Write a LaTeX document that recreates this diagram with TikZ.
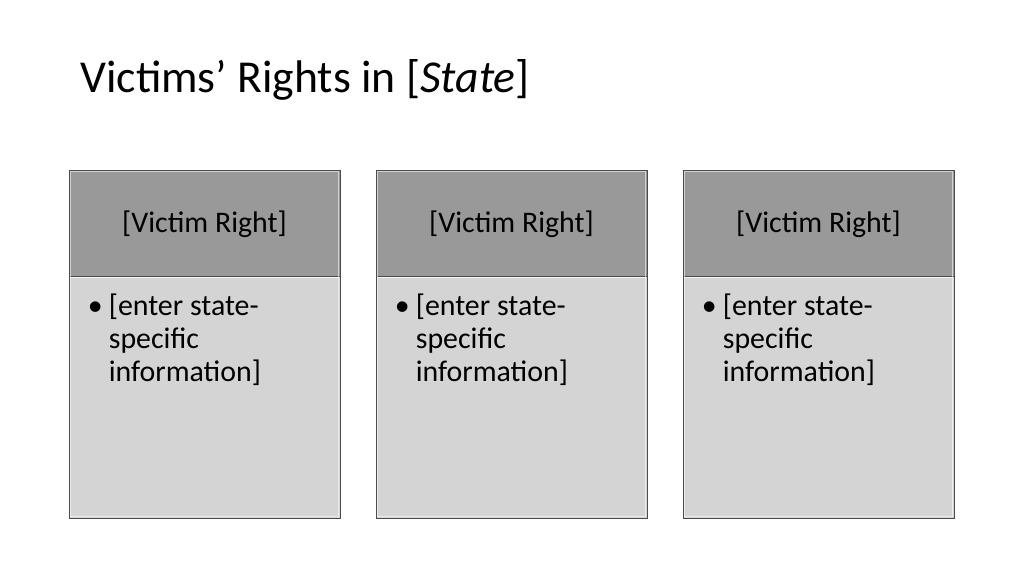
\documentclass[tikz,border=0pt]{standalone}
\usepackage{fontspec}
\setmainfont{Carlito}

\begin{document}
\begin{tikzpicture}
[x=0.02cm,y=-0.02cm,
  headbox/.style={shape=rectangle,draw=black!70,fill=black!40,inner sep=0pt,%
    minimum width=5.42cm,minimum height=2.16cm,font=\fontsize{17}{19}\selectfont},%
  bodybox/.style={shape=rectangle,draw=black!70,fill=black!17,inner sep=0pt,%
    minimum width=5.42cm,minimum height=4.84cm},%
  shine/.style={draw=white,opacity=0.55,line width=0.6pt},%
  bodytext/.style={inner sep=0pt,font=\fontsize{17}{19}\selectfont}]
\useasboundingbox[fill=white] (0,0) rectangle (1024,576);
%% title
\node (title) at (80,92) [anchor=base west,inner sep=0pt,font=\fontsize{26}{30}\selectfont]
  {Victims’ Rights in [\textit{State}]};
%% columns
\foreach \colname/\x in {a/204.5, b/511.5, c/818.5}
{
  \node (head\colname) at (\x,224) [headbox] {[Victim Right]};
  \node (body\colname) at (\x,397) [bodybox] {};
  \draw[shine] ([shift={(2,2)}]head\colname.north west) rectangle ([shift={(-2,-1)}]head\colname.south east);
  \draw[shine] ([shift={(2,2)}]body\colname.north west) rectangle ([shift={(-2,-2)}]body\colname.south east);
  \node (dot\colname) at (\x-117,315) [bodytext,anchor=base west] {•};
  \node (info\colname) at (\x-96,315) [bodytext,anchor=base west]
    {\begin{tabular}[t]{@{}l@{}}[enter state-\\specific\\information]\end{tabular}};
}
\end{tikzpicture}
\end{document}
